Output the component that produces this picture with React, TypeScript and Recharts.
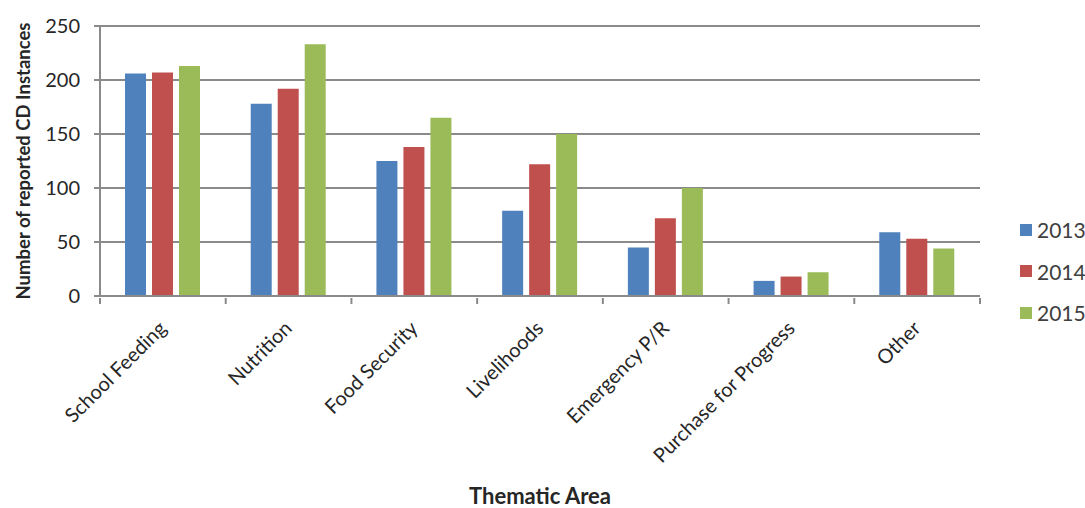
import { BarChart, Bar, XAxis, YAxis, CartesianGrid, Label } from 'recharts'

// Thematic areas and counts of reported CD instances per year
const categories = ['School Feeding', 'Nutrition', 'Food Security', 'Livelihoods', 'Emergency P/R', 'Purchase for Progress', 'Other']
const values2013 = [206, 178, 125, 79, 45, 14, 59]
const values2014 = [207, 192, 138, 122, 72, 18, 53]
const values2015 = [213, 233, 165, 150, 100, 22, 44]
const yTicks = [0, 50, 100, 150, 200, 250]

const series = [
  { key: 'y2013', name: '2013', color: '#4F81BD' },
  { key: 'y2014', name: '2014', color: '#C0504D' },
  { key: 'y2015', name: '2015', color: '#9BBB59' },
]

const data = categories.map((name, i) => ({
  name,
  y2013: values2013[i],
  y2014: values2014[i],
  y2015: values2015[i],
}))

const W = 1085
const H = 508
const M = { top: 26, right: 105, left: 0, bottom: 0 }
const Y_AXIS_W = 100
const X_AXIS_H = 212
const FONT = 'Lato, "Open Sans", sans-serif'
const AXIS_GRAY = '#8a8a8a'
const TEXT = '#262626'
const band = (W - M.left - M.right - Y_AXIS_W) / categories.length

function CategoryTick(props: any) {
  const { x, y, payload, index } = props
  const last = index === categories.length - 1
  return (
    <g>
      <line x1={x - band / 2} y1={y} x2={x - band / 2} y2={y + 6} stroke={AXIS_GRAY} strokeWidth={2} />
      {last && <line x1={x + band / 2} y1={y} x2={x + band / 2} y2={y + 6} stroke={AXIS_GRAY} strokeWidth={2} />}
      <text
        transform={`translate(${x - 1},${y + 26}) rotate(-45)`}
        textAnchor="end"
        dominantBaseline="central"
        fontSize={20}
        fontFamily={FONT}
        fill={TEXT}
      >
        {payload.value}
      </text>
    </g>
  )
}

function YearLegend() {
  return (
    <div style={{ position: 'absolute', left: 1020, top: 209, fontFamily: FONT, fontSize: 21, color: '#404040' }}>
      {series.map(s => (
        <div key={s.key} style={{ display: 'flex', alignItems: 'center', height: 41.5 }}>
          <div style={{ width: 12, height: 12, background: s.color, marginRight: 5 }} />
          <span>{s.name}</span>
        </div>
      ))}
    </div>
  )
}

export default function App() {
  return (
    <div style={{ position: 'absolute', left: 0, top: 0, width: W, height: H, background: '#fff' }}>
      <BarChart width={W} height={H} data={data} margin={M} barSize={21} barGap={6}>
        <CartesianGrid vertical={false} stroke={AXIS_GRAY} strokeWidth={2} />
        <XAxis
          dataKey="name"
          height={X_AXIS_H}
          interval={0}
          tickLine={false}
          tickSize={0}
          tick={<CategoryTick />}
          stroke={AXIS_GRAY}
          strokeWidth={2}
        >
          <Label
            value="Thematic Area"
            position="insideBottom"
            offset={4}
            style={{ fontFamily: FONT, fontSize: 22, fontWeight: 700, fill: TEXT }}
          />
        </XAxis>
        <YAxis
          width={Y_AXIS_W}
          domain={[0, 250]}
          ticks={yTicks}
          tickSize={6}
          tickMargin={14}
          stroke={AXIS_GRAY}
          strokeWidth={2}
          tick={{ fontFamily: FONT, fontSize: 20, fill: TEXT }}
        >
          <Label
            value="Number of reported CD Instances"
            angle={-90}
            position="insideLeft"
            offset={23}
            style={{ fontFamily: FONT, fontSize: 18.5, fontWeight: 700, fill: TEXT, textAnchor: 'middle' }}
          />
        </YAxis>
        {series.map(s => (
          <Bar key={s.key} dataKey={s.key} name={s.name} fill={s.color} isAnimationActive={false} />
        ))}
      </BarChart>
      <YearLegend />
    </div>
  )
}
